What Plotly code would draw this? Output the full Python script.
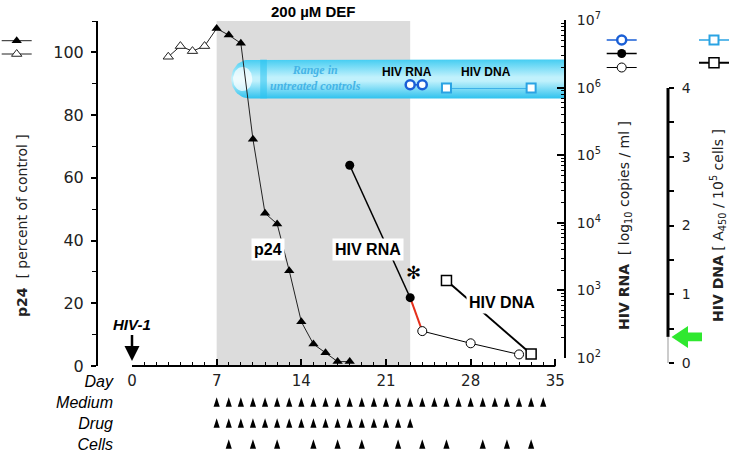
import numpy as np
import plotly.graph_objects as go

W, H = 733, 456

# ---------------- data ----------------
p24_pre_days = [3, 4, 5, 6]
p24_pre = [98.6, 102.0, 100.4, 102.0]
p24_days = [7, 8, 9, 10, 11, 12, 13, 14, 15, 16, 17, 18]
p24_vals = [107.6, 105.5, 102.9, 72.3, 48.7, 45.3, 30.4, 14.1, 7.0, 4.2, 1.4, 1.4]

rna_drug_days = [18, 23]
rna_drug = [7.1e4, 7.8e2]
rna_post_days = [24, 28, 32]
rna_post = [250, 165, 113]

dna_days = [26, 33]
dna_vals = [1.2, 0.13]

ctrl_rna_days = [23, 24]
ctrl_rna = [1.1e6, 1.1e6]
ctrl_dna_days = [26, 33]
ctrl_dna = [4.0, 4.0]
ctrl_rna_range = [6.9e5, 2.6e6]
dna_limit = 0.38

def_days = [7, 23]
infection_day = 0
medium_days = list(range(7, 35))
drug_days = list(range(7, 24))
cells_days = [8, 10, 12, 15, 17, 19, 22, 24, 26, 29, 31, 33]

day_ticks = [0, 7, 14, 21, 28, 35]
p24_ticks = [0, 20, 40, 60, 80, 100]
rna_ticks = [10.0 ** e for e in range(2, 8)]
rna_ticktext = ["10<sup>%d</sup>" % e for e in range(2, 8)]
rna_minor = [k * 10.0 ** e for e in range(2, 7) for k in range(2, 10)]
dna_ticks = [0, 1, 2, 3, 4]
row_names = ["Cells", "Drug", "Medium", "Day"]

# ---------------- layout helpers ----------------
TICK_FONT = "DejaVu Sans"
SANS = "Liberation Sans, Arial, sans-serif"
SERIF = "Liberation Serif, Times New Roman, serif"


def fx(px):
    return px / W


def fy(py):
    return 1 - py / H


X_RANGE = [0, 35.8]
ROW_PX = 21.0
ROW0_TIP = 439.25          # pixel of the tip of the "Cells" arrows
ARROW_SHIFT = 4.75 / ROW_PX

# tube ("range in untreated controls") geometry
lo, hi = np.log10(ctrl_rna_range)
mid, half = (lo + hi) / 2, (hi - lo) / 2
x_left, x_right, cap = 8.2, X_RANGE[1], 1.5
t = np.linspace(np.pi / 2, 3 * np.pi / 2, 31)
tube_x = [x_right] + list(x_left + cap + cap * np.cos(t)) + [x_right]
tube_y = list(10 ** np.array([hi] + list(mid + half * np.sin(t)) + [lo]))
t2 = np.linspace(0, 2 * np.pi, 41)
glow_x = list(x_left + 0.95 + 0.8 * np.cos(t2))
glow_y = list(10 ** (mid + half * 0.62 * np.sin(t2)))
stripe_x = [10.6, 11.15, 11.15, 10.6, 10.6]
stripe_y = [10 ** hi, 10 ** hi, 10 ** lo, 10 ** lo, 10 ** hi]

fig = go.Figure()

# --- RNA subplot (x, y) : tube + RNA ---
fig.add_trace(go.Scatter(
    x=tube_x, y=tube_y, mode="lines", fill="toself",
    line=dict(width=0, color="rgba(0,0,0,0)"),
    fillgradient=dict(type="vertical", colorscale=[
        [0, "#2fc2ee"], [0.45, "#c0f1fc"], [0.55, "#c0f1fc"], [1, "#45cdf2"]]),
    xaxis="x", yaxis="y", showlegend=False, hoverinfo="skip"))
fig.add_trace(go.Scatter(
    x=glow_x, y=glow_y, mode="lines", fill="toself",
    line=dict(width=0, color="rgba(0,0,0,0)"), fillcolor="rgba(255,255,255,0.7)",
    xaxis="x", yaxis="y", showlegend=False, hoverinfo="skip"))
fig.add_trace(go.Scatter(
    x=stripe_x, y=stripe_y, mode="lines", fill="toself",
    line=dict(width=0, color="rgba(0,0,0,0)"), fillcolor="rgba(40,195,240,0.55)",
    xaxis="x", yaxis="y", showlegend=False, hoverinfo="skip"))

fig.add_trace(go.Scatter(
    x=ctrl_rna_days, y=ctrl_rna, mode="lines+markers", name="",
    line=dict(color="#1a5fd6", width=1.5),
    marker=dict(symbol="circle", size=9, color="white", line=dict(color="#1a5fd6", width=2.5)),
    xaxis="x", yaxis="y", legend="legend3", cliponaxis=False))
fig.add_trace(go.Scatter(
    x=[rna_drug_days[-1], rna_post_days[0]], y=[rna_drug[-1], rna_post[0]],
    mode="lines", line=dict(color="#e5301c", width=2),
    xaxis="x", yaxis="y", showlegend=False, hoverinfo="skip"))
fig.add_trace(go.Scatter(
    x=rna_drug_days, y=rna_drug, mode="lines+markers", name="",
    line=dict(color="black", width=1.5),
    marker=dict(symbol="circle", size=9, color="black"),
    xaxis="x", yaxis="y", legend="legend4", cliponaxis=False))
fig.add_trace(go.Scatter(
    x=rna_post_days, y=rna_post, mode="lines+markers", name="",
    line=dict(color="black", width=1),
    marker=dict(symbol="circle", size=9, color="white", line=dict(color="black", width=1)),
    xaxis="x", yaxis="y", legend="legend5", cliponaxis=False))

# --- p24 subplot (x, y2) ---
fig.add_trace(go.Scatter(
    x=[p24_pre_days[-1], p24_days[0]], y=[p24_pre[-1], p24_vals[0]],
    mode="lines", line=dict(color="#222", width=1),
    xaxis="x", yaxis="y2", showlegend=False, hoverinfo="skip"))
fig.add_trace(go.Scatter(
    x=p24_pre_days, y=p24_pre, mode="lines+markers", name="",
    line=dict(color="#222", width=1),
    marker=dict(symbol="triangle-up", size=9, color="white", line=dict(color="#222", width=1)),
    xaxis="x", yaxis="y2", legend="legend2", cliponaxis=False))
fig.add_trace(go.Scatter(
    x=p24_days, y=p24_vals, mode="lines+markers", name="",
    line=dict(color="#222", width=1),
    marker=dict(symbol="triangle-up", size=9, color="black"),
    xaxis="x", yaxis="y2", legend="legend", cliponaxis=False))

# --- DNA subplot (x, y3) ---
fig.add_trace(go.Scatter(
    x=ctrl_dna_days, y=ctrl_dna, mode="lines+markers", name="",
    line=dict(color="#2aa3e3", width=1.5),
    marker=dict(symbol="square", size=9, color="white", line=dict(color="#2aa3e3", width=2)),
    xaxis="x", yaxis="y3", legend="legend6", cliponaxis=False))
fig.add_trace(go.Scatter(
    x=dna_days, y=dna_vals, mode="lines+markers", name="",
    line=dict(color="black", width=2),
    marker=dict(symbol="square", size=10, color="white", line=dict(color="black", width=1.5)),
    xaxis="x", yaxis="y3", legend="legend7", cliponaxis=False))

# --- schedule rows (x, y4) ---
for idx, days in [(2, medium_days), (1, drug_days), (0, cells_days)]:
    fig.add_trace(go.Scatter(
        x=days, y=[idx] * len(days), mode="markers",
        marker=dict(symbol="arrow", size=10, color="black"),
        xaxis="x", yaxis="y4", showlegend=False, hoverinfo="skip", cliponaxis=False))


def leg(cx, cy):
    return dict(x=(cx - 20) / W, y=1 - cy / H, xanchor="left", yanchor="middle",
                bgcolor="rgba(0,0,0,0)", borderwidth=0, itemwidth=30,
                font=dict(size=10, family=TICK_FONT))


tickfont = dict(family=TICK_FONT, size=15, color="#222")

fig.update_layout(
    width=W, height=H,
    margin=dict(l=0, r=0, t=0, b=0, autoexpand=False),
    paper_bgcolor="white", plot_bgcolor="rgba(0,0,0,0)",
    showlegend=True,
    legend=leg(16.7, 40.7), legend2=leg(16.7, 54),
    legend3=leg(621.7, 40), legend4=leg(621.7, 53.5), legend5=leg(621.7, 67.5),
    legend6=leg(714, 40), legend7=leg(714, 62.7),
    xaxis=dict(domain=[fx(132), fx(565)], range=X_RANGE, anchor="y2",
               showline=False, showgrid=False, zeroline=False,
               tickmode="array", tickvals=day_ticks, ticks="inside", ticklen=7,
               tickwidth=1.5, tickcolor="black",
               minor=dict(dtick=1, tick0=0, ticks="inside", ticklen=4, tickwidth=1, tickcolor="black"),
               tickfont=tickfont, ticklabelstandoff=4),
    yaxis=dict(type="log", range=[2, 7], domain=[fy(358), fy(20)], anchor="free",
               position=fx(565), side="right", showline=True, linewidth=2, linecolor="black",
               showgrid=False, zeroline=False, tickmode="array", tickvals=rna_ticks,
               ticktext=rna_ticktext, ticks="inside", ticklen=7, tickwidth=1.5, tickcolor="black",
               minor=dict(tickvals=rna_minor, ticks="inside", ticklen=3.5, tickwidth=1, tickcolor="black"),
               tickfont=dict(family=TICK_FONT, size=14, color="#222"), ticklabelstandoff=8),
    yaxis2=dict(range=[0, 110], domain=[fy(366), fy(21)], anchor="free", position=fx(97),
                side="left", showline=True, linewidth=2, linecolor="black",
                showgrid=False, zeroline=False, tickmode="array", tickvals=p24_ticks,
                ticks="outside", ticklen=5, tickwidth=1.5, tickcolor="black",
                minor=dict(dtick=10, tick0=0, ticks="outside", ticklen=4, tickwidth=1, tickcolor="black"),
                tickfont=dict(family=TICK_FONT, size=16, color="#222"), ticklabelstandoff=4),
    yaxis3=dict(range=[0, 4], domain=[fy(363), fy(88)], anchor="free", position=fx(668),
                side="right", showline=False, showgrid=False, zeroline=False,
                tickmode="array", tickvals=dna_ticks, ticks="outside", ticklen=5,
                tickwidth=1.5, tickcolor="black",
                minor=dict(dtick=0.5, tick0=0.5, ticks="outside", ticklen=5, tickwidth=1.5, tickcolor="black"),
                tickfont=dict(family=TICK_FONT, size=14, color="#222"), ticklabelstandoff=5),
    yaxis4=dict(range=[(ROW0_TIP - H) / ROW_PX, (ROW0_TIP - 370) / ROW_PX],
                domain=[0, fy(370)], anchor="free", position=fx(113), side="left",
                showline=False, showgrid=False, zeroline=False, ticks="",
                tickmode="array", tickvals=[i - ARROW_SHIFT for i in range(len(row_names))],
                ticktext=["<i>%s</i>" % r for r in row_names],
                tickfont=dict(family=SANS, size=16, color="black")),
)

# ---------------- shapes ----------------
shapes = [
    dict(type="rect", xref="x", yref="paper", x0=def_days[0], x1=def_days[1],
         y0=fy(366), y1=fy(21), fillcolor="#dcdcdc", line=dict(width=0), layer="below"),
    dict(type="line", xref="x", yref="paper", x0=0, x1=35, y0=fy(366), y1=fy(366),
         line=dict(color="black", width=2)),
    dict(type="line", xref="paper", yref="y3", x0=fx(668), x1=fx(668), y0=dna_limit, y1=4,
         line=dict(color="black", width=3)),
    dict(type="line", xref="paper", yref="y3", x0=fx(668), x1=fx(668), y0=0, y1=dna_limit,
         line=dict(color="#999", width=1)),
]
v = dna_limit
hh, sh = 0.16, 0.065
pts = [(671.5, v), (688, v + hh), (688, v + sh), (702, v + sh), (702, v - sh), (688, v - sh), (688, v - hh)]
path = "M" + " L".join("%.5f,%.4f" % (fx(px), yy) for px, yy in pts) + " Z"
shapes.append(dict(type="path", xref="paper", yref="y3", path=path,
                   fillcolor="#2fe82f", line=dict(width=0)))
fig.update_layout(shapes=shapes)

# ---------------- annotations ----------------
NB = "\u00a0"


def A(**kw):
    d = dict(showarrow=False, xanchor="center", yanchor="middle")
    d.update(kw)
    return d


ann = [
    A(xref="x", yref="paper", x=sum(def_days) / 2, y=fy(12), text="<b>200 µM DEF</b>",
      font=dict(family=SANS, size=15, color="black")),
    A(xref="x", yref="y", x=15.2, y=6.14, text="<b><i>Range in<br>untreated controls</i></b>",
      font=dict(family=SERIF, size=12, color="#45b4e6")),
    A(xref="x", yref="y", x=22.7, y=6.23, text="<b>HIV RNA</b>",
      font=dict(family=SANS, size=12, color="black")),
    A(xref="x", yref="y", x=29.3, y=6.23, text="<b>HIV DNA</b>",
      font=dict(family=SANS, size=12, color="black")),
    A(xref="x", yref="y2", x=11.24, y=37, text="<b>p24</b>",
      bgcolor="white", borderpad=2, font=dict(family=SANS, size=16, color="black")),
    A(xref="x", yref="y", x=19.5, y=3.6, text="<b>HIV RNA</b>",
      bgcolor="white", borderpad=2, font=dict(family=SANS, size=16, color="black")),
    A(xref="x", yref="y", x=23.3, y=3.26, text="✻",
      font=dict(family=TICK_FONT, size=18, color="black")),
    A(xref="x", yref="y3", x=30.55, y=0.885, text="<b>HIV DNA</b>",
      bgcolor="white", borderpad=2, font=dict(family=SANS, size=16, color="black")),
    dict(xref="x", yref="y2", x=infection_day, y=1.6, text="<b><i>HIV-1</i></b>",
         showarrow=True, ax=0, ay=-36, arrowhead=2, arrowsize=1.2, arrowwidth=2.5,
         arrowcolor="black", font=dict(family=SANS, size=15, color="black")),
    A(xref="paper", yref="paper", x=fx(22), y=fy(226), textangle=-90,
      text="<b>p24</b>" + NB * 2 + "[ percent of control ]",
      font=dict(family=TICK_FONT, size=14, color="#222")),
    A(xref="paper", yref="paper", x=fx(625), y=fy(226), textangle=-90,
      text="<b>HIV RNA</b>" + NB * 2 + "[ log<sub>10</sub> copies / ml ]",
      font=dict(family=TICK_FONT, size=14, color="#222")),
    A(xref="paper", yref="paper", x=fx(718), y=fy(226), textangle=-90,
      text="<b>HIV DNA</b>" + NB + "[ A<sub>450</sub> / 10<sup>5</sup> cells ]",
      font=dict(family=TICK_FONT, size=14, color="#222")),
]
fig.update_layout(annotations=ann)

fig.write_html("out.html", config={"displayModeBar": False},
               post_script="document.body.style.margin='0';document.body.style.overflow='hidden';")
